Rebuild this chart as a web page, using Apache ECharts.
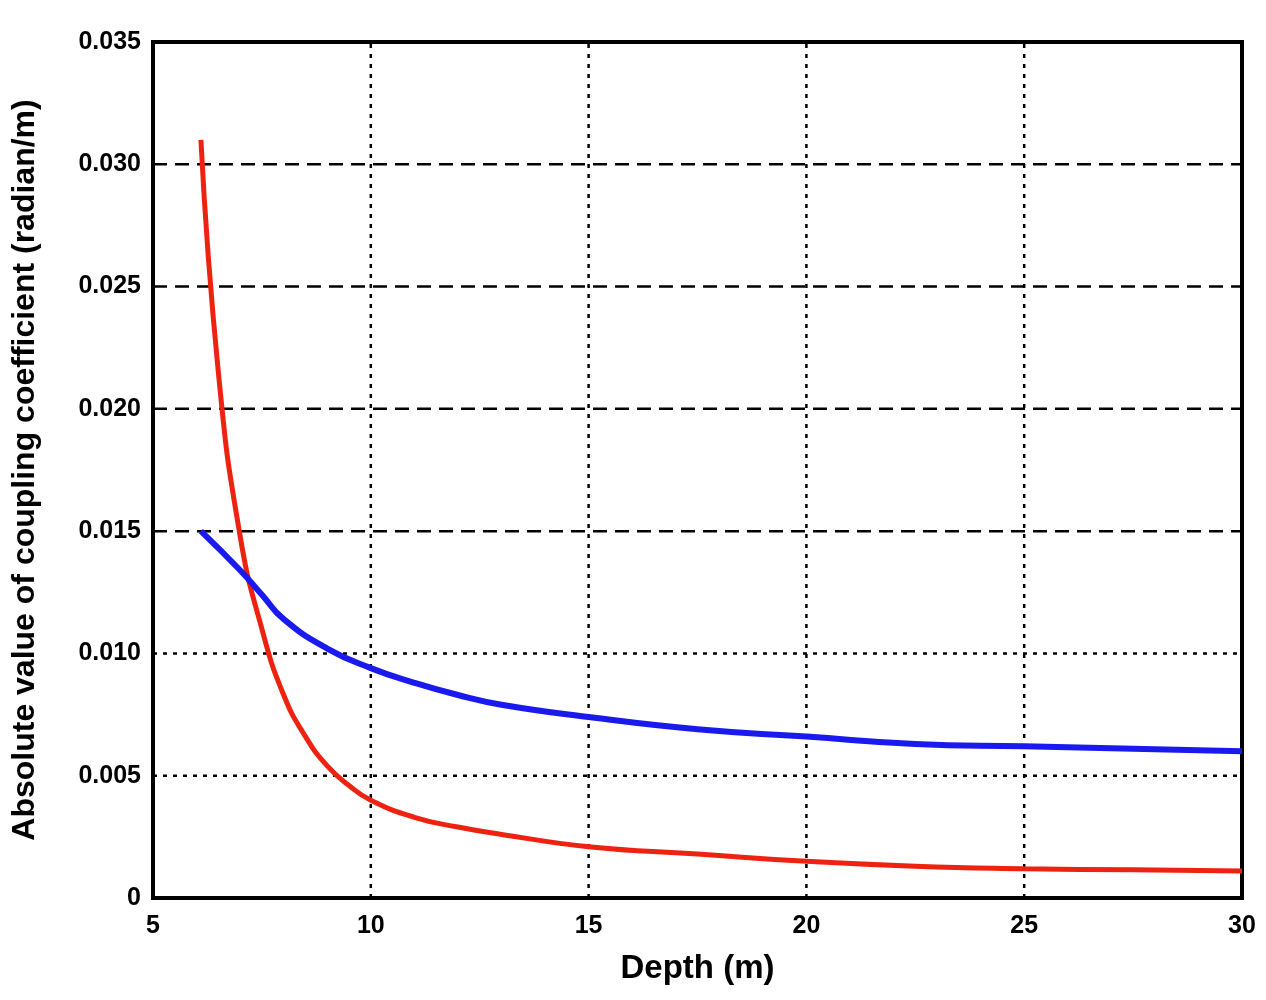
<!DOCTYPE html><html><head><meta charset="utf-8"><script src="https://cdn.jsdelivr.net/npm/echarts@6/dist/echarts.min.js"></script></head><body style="margin:0;background:#fff"><div id="c" style="width:1266px;height:1000px"></div><script>
const depthRed=[6.1,6.5,7,7.5,8,8.5,9,9.5,10,11,12,13,15,17.5,20,22.5,25,27.5,30];
const red=[0.031,0.0215,0.0148,0.011,0.0083,0.0066,0.0054,0.0046,0.004,0.0033,0.0029,0.0026,0.0021,0.0018,0.0015,0.0013,0.0012,0.00115,0.0011];
const depthBlue=[6.1,7,7.5,8,9,10,11,12,13,15,17.5,20,22.5,25,27.5,30];
const blue=[0.015,0.0134,0.0124,0.0114,0.0102,0.0094,0.0088,0.0083,0.0079,0.0074,0.0069,0.0066,0.0063,0.0062,0.0061,0.006];
const xTicks=[10,15,20,25];
const yDotted=[0.005,0.01];
const yDashed=[0.015,0.02,0.025,0.03];
const f='"Liberation Sans",Arial,sans-serif';
const gl=(pts,dash)=>({type:'line',data:pts,symbol:'none',silent:true,lineStyle:{color:'#000',width:2.5,type:dash},z:1});
const grids=[...xTicks.map(v=>gl([[v,0],[v,0.035]],[4,6])),...yDotted.map(v=>gl([[5,v],[30,v]],[4,6])),...yDashed.map(v=>gl([[5,v],[30,v]],[14,8]))];
const ch=echarts.init(document.getElementById('c'));
ch.setOption({animation:false,
grid:{left:153,right:24,top:42,bottom:102,show:true,borderColor:'#000',borderWidth:4},
xAxis:{type:'value',min:5,max:30,interval:5,name:'Depth (m)',nameLocation:'middle',nameGap:54,nameTextStyle:{fontFamily:f,fontWeight:'bold',fontSize:33,color:'#000'},axisLabel:{fontFamily:f,fontWeight:'bold',fontSize:25,color:'#000',margin:16},axisLine:{show:false},axisTick:{show:false},splitLine:{show:false}},
yAxis:{type:'value',min:0,max:0.035,interval:0.005,name:'Absolute value of coupling coefficient (radian/m)',nameLocation:'middle',nameGap:112,nameTextStyle:{fontFamily:f,fontWeight:'bold',fontSize:32,color:'#000'},axisLabel:{fontFamily:f,fontWeight:'bold',fontSize:25,color:'#000',margin:12,formatter:v=>v===0?'0':v.toFixed(3)},axisLine:{show:false},axisTick:{show:false},splitLine:{show:false}},
series:[...grids,
{type:'line',data:depthRed.map((d,i)=>[d,red[i]]),smooth:0.5,symbol:'none',lineStyle:{color:'#ee2211',width:5},z:3},
{type:'line',data:depthBlue.map((d,i)=>[d,blue[i]]),smooth:0.5,symbol:'none',lineStyle:{color:'#1a1aee',width:6},z:4}
]});
</script></body></html>
